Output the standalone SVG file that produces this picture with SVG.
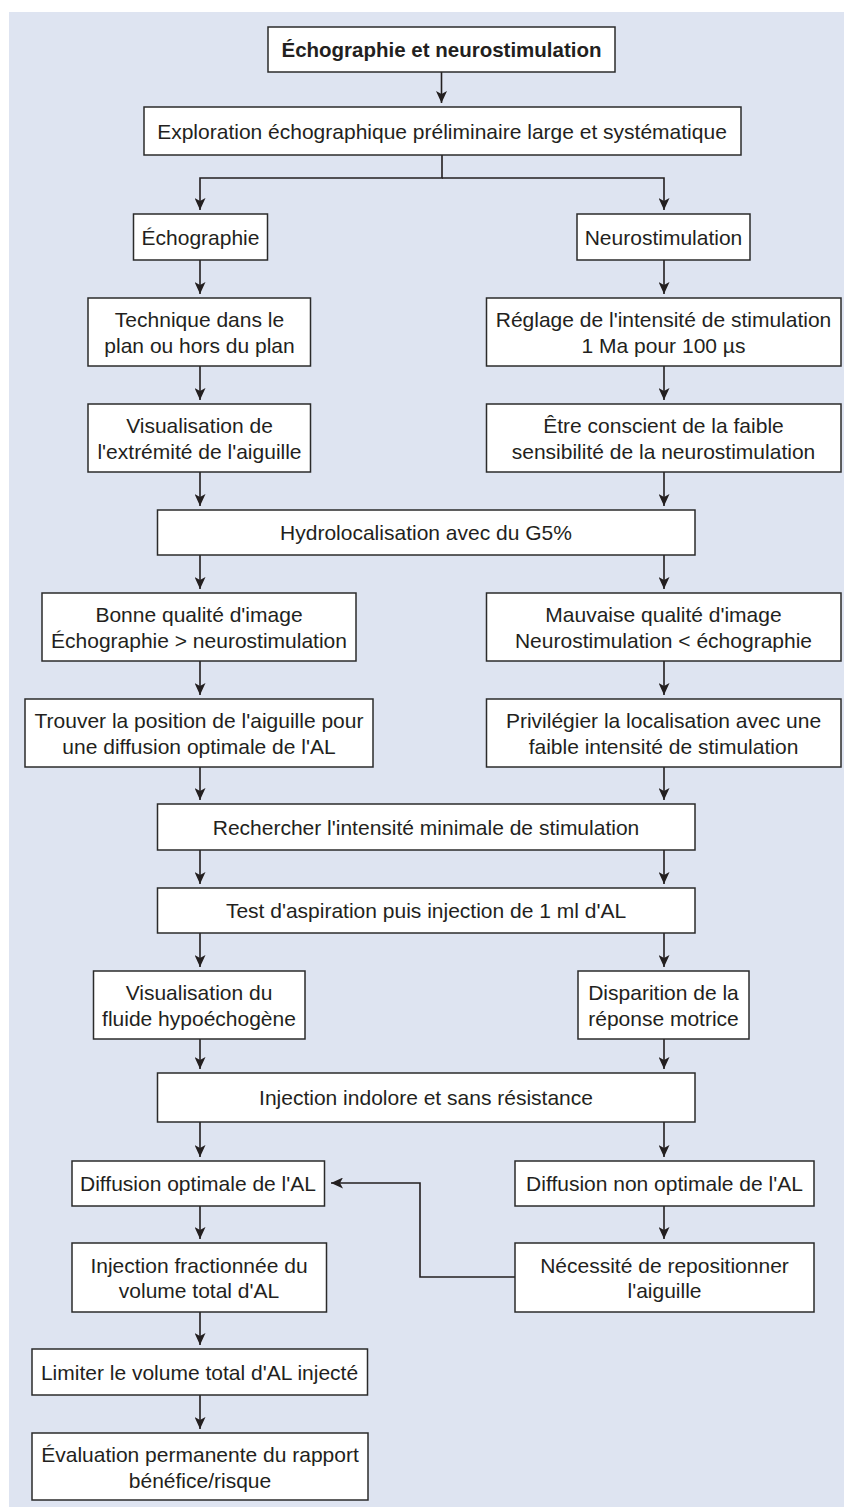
<svg xmlns="http://www.w3.org/2000/svg" width="844" height="1507" viewBox="0 0 844 1507">
<style>
.box{fill:#ffffff;stroke:#2b2b2b;stroke-width:1.5}
.t{font-family:"Liberation Sans",Arial,sans-serif;font-size:21px;fill:#231f20;text-anchor:middle}
.b{font-weight:bold;font-size:20.5px}
.c{fill:none;stroke:#231f20;stroke-width:1.6}
</style>
<defs>
<marker id="ah" viewBox="0 0 12 11" refX="12" refY="5.5" markerWidth="12" markerHeight="11" markerUnits="userSpaceOnUse" orient="auto">
<path d="M0,0 L12,5.5 L0,11 L3,5.5 Z" fill="#231f20"/>
</marker>
</defs>
<rect x="9" y="12" width="835" height="1495" fill="#dee4f1"/>
<g id="connectors">
<path class="c" d="M441.5,72 V103" marker-end="url(#ah)"/>
<path class="c" d="M442,155 V178 H200 V210" marker-end="url(#ah)"/>
<path class="c" d="M442,178 H664 V210" marker-end="url(#ah)"/>
<path class="c" d="M200,260 V294" marker-end="url(#ah)"/>
<path class="c" d="M664,260 V294" marker-end="url(#ah)"/>
<path class="c" d="M200,366 V400" marker-end="url(#ah)"/>
<path class="c" d="M664,366 V400" marker-end="url(#ah)"/>
<path class="c" d="M200,472 V506" marker-end="url(#ah)"/>
<path class="c" d="M664,472 V506" marker-end="url(#ah)"/>
<path class="c" d="M200,555 V589" marker-end="url(#ah)"/>
<path class="c" d="M664,555 V589" marker-end="url(#ah)"/>
<path class="c" d="M200,661 V695" marker-end="url(#ah)"/>
<path class="c" d="M664,661 V695" marker-end="url(#ah)"/>
<path class="c" d="M200,767 V800" marker-end="url(#ah)"/>
<path class="c" d="M664,767 V800" marker-end="url(#ah)"/>
<path class="c" d="M200,850 V884" marker-end="url(#ah)"/>
<path class="c" d="M664,850 V884" marker-end="url(#ah)"/>
<path class="c" d="M200,933 V967" marker-end="url(#ah)"/>
<path class="c" d="M664,933 V967" marker-end="url(#ah)"/>
<path class="c" d="M200,1039 V1069" marker-end="url(#ah)"/>
<path class="c" d="M664,1039 V1069" marker-end="url(#ah)"/>
<path class="c" d="M200,1122 V1157" marker-end="url(#ah)"/>
<path class="c" d="M664,1122 V1157" marker-end="url(#ah)"/>
<path class="c" d="M200,1206 V1239" marker-end="url(#ah)"/>
<path class="c" d="M664,1206 V1239" marker-end="url(#ah)"/>
<path class="c" d="M515,1277 H420 V1183 H331" marker-end="url(#ah)"/>
<path class="c" d="M200,1312 V1345" marker-end="url(#ah)"/>
<path class="c" d="M200,1395 V1429" marker-end="url(#ah)"/>
</g>
<g id="n1"><rect class="box" x="268" y="27" width="347" height="45"/><text class="t b" x="441.5" y="57">Échographie et neurostimulation</text></g>
<g id="n2"><rect class="box" x="144" y="107" width="597" height="48"/><text class="t" x="442" y="138.5">Exploration échographique préliminaire large et systématique</text></g>
<g id="n3"><rect class="box" x="133.5" y="214" width="134" height="46"/><text class="t" x="200.5" y="244.5">Échographie</text></g>
<g id="n4"><rect class="box" x="577" y="214" width="173" height="46"/><text class="t" x="663.5" y="244.5">Neurostimulation</text></g>
<g id="n5"><rect class="box" x="88" y="298" width="222.5" height="68"/><text class="t" x="199.5" y="327">Technique dans le</text><text class="t" x="199.5" y="352.5">plan ou hors du plan</text></g>
<g id="n6"><rect class="box" x="486.5" y="298" width="354.5" height="68"/><text class="t" x="663.5" y="327">Réglage de l'intensité de stimulation</text><text class="t" x="663.5" y="352.5">1 Ma pour 100 µs</text></g>
<g id="n7"><rect class="box" x="88" y="404" width="222.5" height="68"/><text class="t" x="199.5" y="433">Visualisation de</text><text class="t" x="199.5" y="458.5">l'extrémité de l'aiguille</text></g>
<g id="n8"><rect class="box" x="486.5" y="404" width="354.5" height="68"/><text class="t" x="663.5" y="433">Être conscient de la faible</text><text class="t" x="663.5" y="458.5">sensibilité de la neurostimulation</text></g>
<g id="n9"><rect class="box" x="157.5" y="510" width="537.5" height="45"/><text class="t" x="426" y="540">Hydrolocalisation avec du G5%</text></g>
<g id="n10"><rect class="box" x="42" y="593" width="314" height="68"/><text class="t" x="199" y="622">Bonne qualité d'image</text><text class="t" x="199" y="647.5">Échographie &gt; neurostimulation</text></g>
<g id="n11"><rect class="box" x="486.5" y="593" width="354.5" height="68"/><text class="t" x="663.5" y="622">Mauvaise qualité d'image</text><text class="t" x="663.5" y="647.5">Neurostimulation &lt; échographie</text></g>
<g id="n12"><rect class="box" x="25" y="699" width="348" height="68"/><text class="t" x="199" y="728">Trouver la position de l'aiguille pour</text><text class="t" x="199" y="753.5">une diffusion optimale de l'AL</text></g>
<g id="n13"><rect class="box" x="486.5" y="699" width="354.5" height="68"/><text class="t" x="663.5" y="728">Privilégier la localisation avec une</text><text class="t" x="663.5" y="753.5">faible intensité de stimulation</text></g>
<g id="n14"><rect class="box" x="157.5" y="804" width="537.5" height="46"/><text class="t" x="426" y="834.5">Rechercher l'intensité minimale de stimulation</text></g>
<g id="n15"><rect class="box" x="157.5" y="888" width="537.5" height="45"/><text class="t" x="426" y="918">Test d'aspiration puis injection de 1 ml d'AL</text></g>
<g id="n16"><rect class="box" x="93.5" y="971" width="211.5" height="68"/><text class="t" x="199" y="1000">Visualisation du</text><text class="t" x="199" y="1025.5">fluide hypoéchogène</text></g>
<g id="n17"><rect class="box" x="578" y="971" width="171" height="68"/><text class="t" x="663.5" y="1000">Disparition de la</text><text class="t" x="663.5" y="1025.5">réponse motrice</text></g>
<g id="n18"><rect class="box" x="157.5" y="1073" width="537.5" height="49"/><text class="t" x="426" y="1105">Injection indolore et sans résistance</text></g>
<g id="n19"><rect class="box" x="72" y="1161" width="252.5" height="45"/><text class="t" x="198" y="1191">Diffusion optimale de l'AL</text></g>
<g id="n20"><rect class="box" x="515" y="1161" width="299" height="45"/><text class="t" x="664.5" y="1191">Diffusion non optimale de l'AL</text></g>
<g id="n21"><rect class="box" x="72" y="1243" width="254.5" height="69"/><text class="t" x="199" y="1272.5">Injection fractionnée du</text><text class="t" x="199" y="1298">volume total d'AL</text></g>
<g id="n22"><rect class="box" x="515" y="1243" width="299" height="69"/><text class="t" x="664.5" y="1272.5">Nécessité de repositionner</text><text class="t" x="664.5" y="1298">l'aiguille</text></g>
<g id="n23"><rect class="box" x="32" y="1349" width="335.5" height="46"/><text class="t" x="199.5" y="1379.5">Limiter le volume total d'AL injecté</text></g>
<g id="n24"><rect class="box" x="32" y="1433" width="336" height="67"/><text class="t" x="200" y="1462">Évaluation permanente du rapport</text><text class="t" x="200" y="1487.5">bénéfice/risque</text></g>
</svg>
